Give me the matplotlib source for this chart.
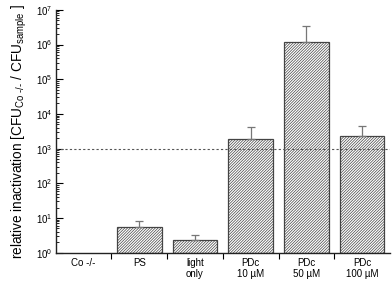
import matplotlib
matplotlib.use("Agg")
import matplotlib.pyplot as plt
import numpy as np

plt.rcParams['font.family'] = ['Liberation Sans', 'DejaVu Sans']
plt.rcParams['mathtext.fontset'] = 'custom'
plt.rcParams['mathtext.rm'] = 'Liberation Sans'
plt.rcParams['hatch.color'] = '#333333'
plt.rcParams['hatch.linewidth'] = 0.5

# data
categories = ["Co -/-", "PS", "light\nonly", "PDc\n10 µM", "PDc\n50 µM", "PDc\n100 µM"]
inactivation = [1.0, 5.5, 2.3, 1870, 1.2e6, 2370]
err_upper = [0.0, 2.7, 0.9, 2280, 2.3e6, 2120]
threshold = 1e3

fig = plt.figure(figsize=(3.92, 2.82), dpi=100)
ax = fig.add_axes([0.142, 0.104, 0.853, 0.861])

x = np.arange(len(categories))
vals = np.array(inactivation)
show = vals > 1.0
ax.bar(x[show], vals[show] - 1.0, bottom=1.0, width=0.8, color='white',
       edgecolor='#444444', linewidth=0.9, hatch='/' * 12)
errs = np.array([np.zeros(len(err_upper)), err_upper])
ax.errorbar(x[show], vals[show], yerr=errs[:, show], fmt='none', ecolor='#777777',
            elinewidth=0.9, capsize=3, capthick=0.9)
ax.axhline(threshold, color='#555555', linestyle=(0, (2, 2)), linewidth=0.8)

ax.set_yscale('log')
ax.set_ylim(1, 1e7)
ax.set_xlim(-0.5, 5.5)

ax.set_xticks(x)
ax.set_xticklabels(categories, fontsize=7, linespacing=1.05)
ax.tick_params(axis='x', which='major', length=0, pad=4)
ax.set_xticks(np.arange(0.5, 5.5, 1.0), minor=True)
ax.tick_params(axis='x', which='minor', length=4, direction='out', width=0.8)

ax.tick_params(axis='y', which='major', direction='in', length=5, width=0.8, labelsize=7, pad=2)
ax.tick_params(axis='y', which='minor', direction='in', length=2.5, width=0.6)

for side in ['top', 'right']:
    ax.spines[side].set_visible(False)
for side in ['left', 'bottom']:
    ax.spines[side].set_linewidth(1.0)
    ax.spines[side].set_color('#222222')

ax.set_ylabel(r'relative inactivation [CFU$_{\text{Co -/-}}$ / CFU$_{\text{sample}}$ ]',
              fontsize=9.8, labelpad=5)

fig.savefig('out.png', dpi=100)
